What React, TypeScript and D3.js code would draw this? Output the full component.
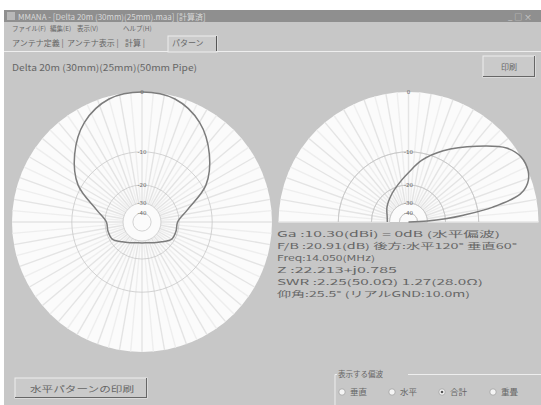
import React from "react";
import * as d3 from "d3";

// RADIAL SCALE (dB -> fraction of outer radius)
const ringDb = [-60, -40, -30, -20, -10, 0];
const ringFrac = [0, 0.07, 0.146, 0.285, 0.54, 1];
const labelDb = [0, -10, -20, -30, -40];

// HORIZONTAL PATTERN (azimuth, deg clockwise from front)
const hAngles = [0, 15, 30, 45, 60, 75, 90, 105, 120, 135, 150, 165, 180, 195, 210, 225, 240, 255, 270, 285, 300, 315, 330, 345];
const hGain = [0, -0.45, -2.5, -5.8, -9.4, -17, -20.8, -21, -21.5, -25, -27.3, -28.6, -28.9, -28.6, -27.3, -25, -21.5, -21, -20.8, -17, -9.4, -5.8, -2.5, -0.45];

// VERTICAL PATTERN (elevation, deg from right horizon)
const vAngles = [0, 3, 5, 7, 10, 14, 18, 23, 30, 37, 48, 64, 78, 89, 100, 120, 145, 167, 180];
const vGain = [-60, -30, -20, -14.5, -7.4, -2.5, -0.8, 0, 0, -1.2, -4.7, -8.5, -12.2, -16, -18.5, -22.3, -26, -28.4, -28.8];

// TEXTS
const menuItems = ["ファイル(F)", "編集(E)", "表示(V)", "ヘルプ(H)"];
const tabs = ["アンテナ定義", "アンテナ表示", "計算", "パターン"];
const infoLines = [
  "Ga   :10.30(dBi) = 0dB   (水平偏波)",
  "F/B  :20.91(dB)  後方:水平120°  垂直60°",
  "Freq:14.050(MHz)",
  "Z     :22.213+j0.785",
  "SWR :2.25(50.0Ω)  1.27(28.0Ω)",
  "仰角:25.5°  (リアルGND:10.0m)",
];
const polOptions = ["垂直", "水平", "合計", "重畳"];

const FONT = "'Noto Sans CJK JP', 'DejaVu Sans', sans-serif";
const infoWidths = [223, 240, 98, 120, 206, 193];
const menuX = [12, 50, 77, 123];
const tabX = [12, 67, 125, 172];
const radioX = [342, 392, 442, 493];

export default function App() {
  const R = 130;
  const L = { cx: 142, cy: 222 };
  const V = { cx: 408.5, cy: 222 };
  const rad = Math.PI / 180;

  const rScale = d3
    .scaleLinear()
    .domain(ringDb)
    .range(ringFrac.map((f) => f * R))
    .clamp(true);

  const hLine = d3
    .lineRadial<number>()
    .angle((d, i) => hAngles[i] * rad)
    .radius((d) => rScale(d))
    .curve(d3.curveCatmullRomClosed.alpha(0.5));

  const vLine = d3
    .lineRadial<number>()
    .angle((d, i) => (90 - vAngles[i]) * rad)
    .radius((d) => rScale(d))
    .curve(d3.curveCatmullRom.alpha(0.5));

  const halfArc = (r: number) =>
    d3.arc()({ innerRadius: 0, outerRadius: r, startAngle: -Math.PI / 2, endAngle: Math.PI / 2 }) || "";
  const halfRing = (r: number) =>
    d3.arc()({ innerRadius: r, outerRadius: r, startAngle: -Math.PI / 2, endAngle: Math.PI / 2 }) || "";

  const spokesFull = d3.range(0, 360, 5);
  const spokesHalf = d3.range(-90, 91, 5);
  const ringList = [-40, -30, -20, -10];

  const spoke = (a: number, key: string) => {
    const r0 = rScale(-30);
    return (
      <line
        key={key}
        x1={r0 * Math.sin(a * rad)}
        y1={-r0 * Math.cos(a * rad)}
        x2={R * Math.sin(a * rad)}
        y2={-R * Math.cos(a * rad)}
        stroke={a % 10 === 0 ? "#e4e4e4" : "#eeeeee"}
        strokeWidth={1.4}
      />
    );
  };

  const labels = (
    <g>
      {labelDb.map((db) => (
        <text
          key={db}
          x={0}
          y={-rScale(db) + 2}
          textAnchor="middle"
          fontSize={5.5}
          fill="#6a6a6a"
          fontFamily="DejaVu Sans"
        >
          {db === 0 ? "0" : db}
        </text>
      ))}
    </g>
  );

  return (
    <svg
      width={541}
      height={405}
      style={{ position: "absolute", left: 0, top: 0, fontFamily: FONT }}
    >
      <rect x={0} y={0} width={541} height={405} fill="#ffffff" />
      {/* WINDOW */}
      <rect x={4} y={10} width={537} height={395} fill="#c7c7c7" />
      <rect x={4} y={10} width={537} height={12} fill="#8f8f8f" />
      <rect x={7} y={12} width={8} height={8} fill="#b8b8b8" />
      <text x={18} y={19.5} fontSize={8} fill="#d8d8d8">
        MMANA - [Delta 20m (30mm)(25mm).maa]  [計算済]
      </text>
      <text x={508} y={19.5} fontSize={8} fill="#d0d0d0">
        _ □ ×
      </text>

      {menuItems.map((m, i) => (
        <text key={m} x={menuX[i]} y={31} fontSize={6.5} fill="#666">
          {m}
        </text>
      ))}

      {/* TABS */}
      <line x1={4} x2={541} y1={51.5} y2={51.5} stroke="#eeeeee" />
      <rect x={168} y={36} width={49} height={16} fill="#cbcbcb" stroke="#eeeeee" />
      <line x1={216.5} x2={216.5} y1={36} y2={51} stroke="#555" />
      {tabs.map((t, i) => (
        <text key={t} x={tabX[i]} y={46} fontSize={8} fill="#666">
          {t}
          {i < 3 ? " |" : ""}
        </text>
      ))}

      <text x={12} y={71} fontSize={9} fill="#666" textLength={185} lengthAdjust="spacingAndGlyphs">
        Delta 20m (30mm)(25mm)(50mm Pipe)
      </text>

      {/* PRINT BUTTON */}
      <rect x={483} y={56} width={52} height={21} fill="#cacaca" stroke="#eeeeee" />
      <line x1={534.5} x2={534.5} y1={56} y2={77} stroke="#666" />
      <line x1={483} x2={535} y1={76.5} y2={76.5} stroke="#666" />
      <text x={509} y={70} fontSize={8} fill="#666" textAnchor="middle">
        印刷
      </text>

      {/* HORIZONTAL PLOT */}
      <g transform={`translate(${L.cx},${L.cy})`}>
        <circle r={R} fill="#fbfbfb" />
        {spokesFull.map((a) => spoke(a, "h" + a))}
        {ringList.map((db) => (
          <circle key={db} r={rScale(db)} fill="none" stroke="#c8c8c8" strokeWidth={0.8} />
        ))}
        <path d={hLine(hGain) || ""} fill="none" stroke="#7c7c7c" strokeWidth={1.5} />
        {labels}
      </g>

      {/* VERTICAL PLOT */}
      <g transform={`translate(${V.cx},${V.cy})`}>
        <path d={halfArc(R)} fill="#fbfbfb" />
        {spokesHalf.map((a) => spoke(a, "v" + a))}
        {ringList.map((db) => (
          <path key={db} d={halfRing(rScale(db))} fill="none" stroke="#c8c8c8" strokeWidth={0.8} />
        ))}
        <path d={vLine(vGain) || ""} fill="none" stroke="#7c7c7c" strokeWidth={1.5} />
        {labels}
      </g>

      {/* INFO */}
      {infoLines.map((t, i) => (
        <text
          key={i}
          x={277}
          y={236.5 + i * 12}
          fontSize={8}
          fill="#666"
          textLength={infoWidths[i]}
          lengthAdjust="spacingAndGlyphs"
        >
          {t}
        </text>
      ))}

      {/* BOTTOM BUTTON */}
      <rect x={15} y={378} width={132} height={20} fill="#cacaca" stroke="#eeeeee" />
      <line x1={146.5} x2={146.5} y1={378} y2={398} stroke="#666" />
      <line x1={15} x2={147} y1={397.5} y2={397.5} stroke="#666" />
      <text x={30} y={391.5} fontSize={8.5} fill="#666" textLength={104} lengthAdjust="spacingAndGlyphs">
        水平パターンの印刷
      </text>

      {/* POLARIZATION GROUP */}
      <path d="M335,405 V374.5 H337 M408,374.5 H541" fill="none" stroke="#eeeeee" />
      <text x={338} y={377} fontSize={7.5} fill="#666">
        表示する偏波
      </text>
      {polOptions.map((p, i) => (
        <g key={p}>
          <circle cx={radioX[i]} cy={392} r={3.2} fill="#f4f4f4" stroke="#9a9a9a" strokeWidth={0.7} />
          {i === 2 && <circle cx={radioX[i]} cy={392} r={1.3} fill="#555" />}
          <text x={radioX[i] + 8} y={395} fontSize={8.5} fill="#666">
            {p}
          </text>
        </g>
      ))}
    </svg>
  );
}
